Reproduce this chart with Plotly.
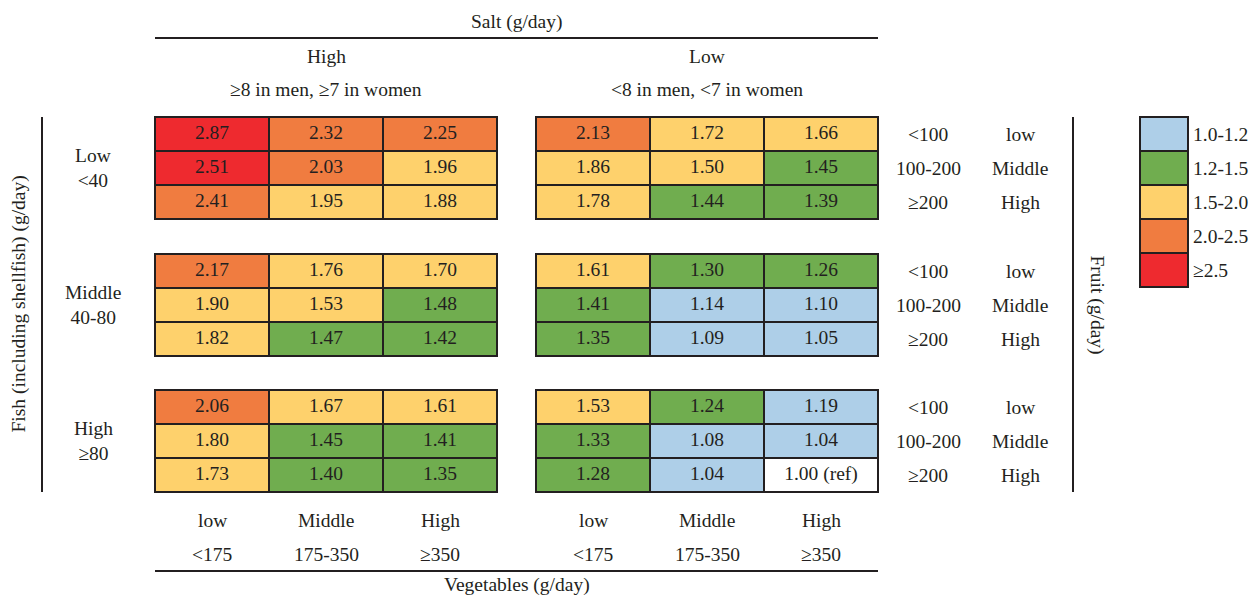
import plotly.graph_objects as go

# ---------------- data ----------------
salt_groups = ["High", "Low"]
salt_sub = ["\u22658 in men, \u22657 in women", "<8 in men, <7 in women"]
fish_groups = ["Low", "Middle", "High"]
fish_sub = ["<40", "40-80", "\u226580"]
fruit_levels = ["low", "Middle", "High"]
fruit_sub = ["<100", "100-200", "\u2265200"]
veg_levels = ["low", "Middle", "High"]
veg_sub = ["<175", "175-350", "\u2265350"]

# values[salt][fish][fruit][veg]
salt_high = [
    [[2.87, 2.32, 2.25], [2.51, 2.03, 1.96], [2.41, 1.95, 1.88]],
    [[2.17, 1.76, 1.70], [1.90, 1.53, 1.48], [1.82, 1.47, 1.42]],
    [[2.06, 1.67, 1.61], [1.80, 1.45, 1.41], [1.73, 1.40, 1.35]],
]
salt_low = [
    [[2.13, 1.72, 1.66], [1.86, 1.50, 1.45], [1.78, 1.44, 1.39]],
    [[1.61, 1.30, 1.26], [1.41, 1.14, 1.10], [1.35, 1.09, 1.05]],
    [[1.53, 1.24, 1.19], [1.33, 1.08, 1.04], [1.28, 1.04, 1.00]],
]
values = [salt_high, salt_low]

legend_labels = ["1.0-1.2", "1.2-1.5", "1.5-2.0", "2.0-2.5", "\u22652.5"]
legend_colors = ["#AECFE8", "#70AD4F", "#FED16C", "#F07C40", "#EE2A2F"]
bin_edges = [1.2, 1.5, 2.0, 2.5]
ref_value = 1.00

# ---------------- layout geometry ----------------
FONT = "Liberation Serif"
FS = 19.5
TXT = "#231f20"
block_x0 = [155, 536]
cell_w = 114
group_y0 = [117, 254, 390]
cell_h = 34
LW = 2


def color_for(v):
    if v == ref_value:
        return "white"
    idx = 0
    for e in bin_edges:
        if v >= e:
            idx += 1
    return legend_colors[idx]


shapes = []
annotations = []
tx, ty, tt = [], [], []

for s, block in enumerate(values):
    for f, grp in enumerate(block):
        for r, row in enumerate(grp):
            for c, v in enumerate(row):
                x0 = block_x0[s] + c * cell_w
                y0 = group_y0[f] + r * cell_h
                shapes.append(dict(type="rect", xref="x", yref="y",
                                   x0=x0, x1=x0 + cell_w, y0=y0, y1=y0 + cell_h,
                                   fillcolor=color_for(v),
                                   line=dict(color="#231f20", width=LW),
                                   layer="below"))
                tx.append(x0 + cell_w / 2)
                ty.append(y0 + cell_h / 2)
                tt.append(f"{v:.2f} (ref)" if v == ref_value else f"{v:.2f}")

grid_left = block_x0[0]
grid_right = block_x0[1] + 3 * cell_w
grid_top = group_y0[0]
grid_bottom = group_y0[-1] + 3 * cell_h


def text(x, y, t, angle=0, xanchor="center"):
    annotations.append(dict(x=x, y=y, xref="x", yref="y", text=t, showarrow=False,
                            textangle=angle, xanchor=xanchor, yanchor="middle",
                            font=dict(family=FONT, size=FS, color=TXT)))


def line(x0, y0, x1, y1):
    shapes.append(dict(type="line", xref="x", yref="y", x0=x0, y0=y0, x1=x1, y1=y1,
                       line=dict(color="#231f20", width=LW)))


# top header
text((grid_left + grid_right) / 2, 22, "Salt (g/day)")
line(grid_left, 38, grid_right, 38)
for s in range(2):
    cx = block_x0[s] + 1.5 * cell_w
    text(cx, 56, salt_groups[s])
    text(cx, 89, salt_sub[s])

# bottom header
for s in range(2):
    for c in range(3):
        cx = block_x0[s] + (c + 0.5) * cell_w
        text(cx, 520, veg_levels[c])
        text(cx, 554, veg_sub[c])
line(grid_left, 571, grid_right, 571)
text((grid_left + grid_right) / 2, 585, "Vegetables (g/day)")

# left side
line(42, grid_top, 42, grid_bottom)
text(18, (grid_top + grid_bottom) / 2, "Fish (including shellfish) (g/day)", angle=-90)
for f in range(3):
    cy = group_y0[f] + 1.5 * cell_h
    text(93, cy, fish_groups[f] + "<br>" + fish_sub[f])

# right side
for f in range(3):
    for r in range(3):
        cy = group_y0[f] + (r + 0.5) * cell_h
        text(928, cy, fruit_sub[r])
        text(1020, cy, fruit_levels[r])
line(1073, grid_top, 1073, grid_bottom)
text(1097, (grid_top + grid_bottom) / 2, "Fruit (g/day)", angle=90)

# legend
for i, (lab, col) in enumerate(zip(legend_labels, legend_colors)):
    y0 = grid_top + i * cell_h
    shapes.append(dict(type="rect", xref="x", yref="y", x0=1140, x1=1188,
                       y0=y0, y1=y0 + cell_h, fillcolor=col,
                       line=dict(color="#231f20", width=LW)))
    text(1191, y0 + cell_h / 2, lab, xanchor="left")

fig = go.Figure()
fig.add_trace(go.Scatter(x=tx, y=ty, text=tt, mode="text",
                         textfont=dict(family=FONT, size=FS, color=TXT),
                         hoverinfo="skip", showlegend=False))
fig.update_layout(
    width=1249, height=595, margin=dict(l=0, r=0, t=0, b=0),
    paper_bgcolor="white", plot_bgcolor="white",
    xaxis=dict(range=[0, 1249], visible=False, fixedrange=True),
    yaxis=dict(range=[595, 0], visible=False, fixedrange=True),
    shapes=shapes, annotations=annotations, showlegend=False,
)
fig.write_html("out.html", config={"displayModeBar": False},
               post_script="document.body.style.margin='0';document.body.style.overflow='hidden';")
